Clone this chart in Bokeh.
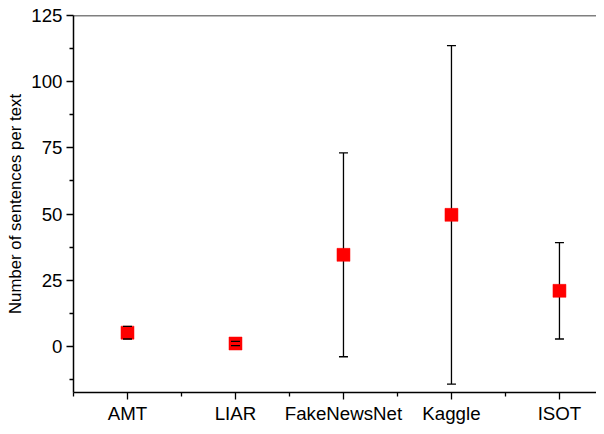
from bokeh.plotting import figure
from bokeh.models import (ColumnDataSource, Whisker, FixedTicker, Span, Range1d)
from bokeh.embed import file_html
from bokeh.resources import INLINE

# Data
datasets = ["AMT", "LIAR", "FakeNewsNet", "Kaggle", "ISOT"]
means = [5.2, 1.1, 34.6, 49.7, 21.0]
errors = [2.4, 0.8, 38.5, 63.9, 18.2]

xs = list(range(1, len(datasets) + 1))
lower = [m - e for m, e in zip(means, errors)]
upper = [m + e for m, e in zip(means, errors)]
src = ColumnDataSource(dict(x=xs, mean=means, lower=lower, upper=upper))

FONT = "Liberation Sans"

p = figure(width=596, height=426, output_backend="svg", toolbar_location=None,
           x_range=Range1d(0.5, 5.343), y_range=Range1d(-17.4, 125),
           min_border_left=73, min_border_right=0, min_border_top=15, min_border_bottom=0)
p.outline_line_color = None
p.grid.visible = False
p.background_fill_color = "white"
p.border_fill_color = "white"

# error bar stems (under the markers)
w = Whisker(base="x", lower="lower", upper="upper", source=src,
            line_color="black", line_width=1.3, level="underlay",
            upper_head=None, lower_head=None)
p.add_layout(w)

p.scatter("x", "mean", source=src, marker="square", size=13,
          fill_color="#ff0000", line_color="#ff0000", line_width=0.5)

# error bar caps (drawn above the markers)
p.scatter("x", "upper", source=src, marker="dash", size=9,
          line_color="black", line_width=1.3)
p.scatter("x", "lower", source=src, marker="dash", size=9,
          line_color="black", line_width=1.3)

# top frame line
p.add_layout(Span(location=125, dimension="width", line_color="black", line_width=1.5))

# axes styling
p.xaxis.ticker = FixedTicker(ticks=xs, minor_ticks=[x - 0.5 for x in xs] + [len(xs) + 0.5])
p.xaxis.major_label_overrides = {x: d for x, d in zip(xs, datasets)}
p.yaxis.ticker = FixedTicker(ticks=[0, 25, 50, 75, 100, 125],
                             minor_ticks=[-12.5, 12.5, 37.5, 62.5, 87.5, 112.5])
p.yaxis.axis_label = "Number of sentences per text"

for ax in (p.xaxis, p.yaxis):
    ax.axis_line_width = 1.5
    ax.axis_line_color = "black"
    ax.major_tick_line_color = "black"
    ax.minor_tick_line_color = "black"
    ax.major_tick_line_width = 1.3
    ax.minor_tick_line_width = 1.3
    ax.major_tick_in = 0
    ax.major_tick_out = 7
    ax.minor_tick_in = 0
    ax.minor_tick_out = 4
    ax.major_label_text_font = FONT
    ax.major_label_text_font_size = "18.7px"
    ax.major_label_text_color = "black"
    ax.axis_label_text_font = FONT
    ax.axis_label_text_font_size = "16.8px"
    ax.axis_label_text_font_style = "normal"
    ax.axis_label_text_color = "black"

p.xaxis.major_label_standoff = 3
p.yaxis.major_label_standoff = 4
p.yaxis.axis_label_standoff = 3

open("out.html", "w").write(file_html(p, INLINE))
